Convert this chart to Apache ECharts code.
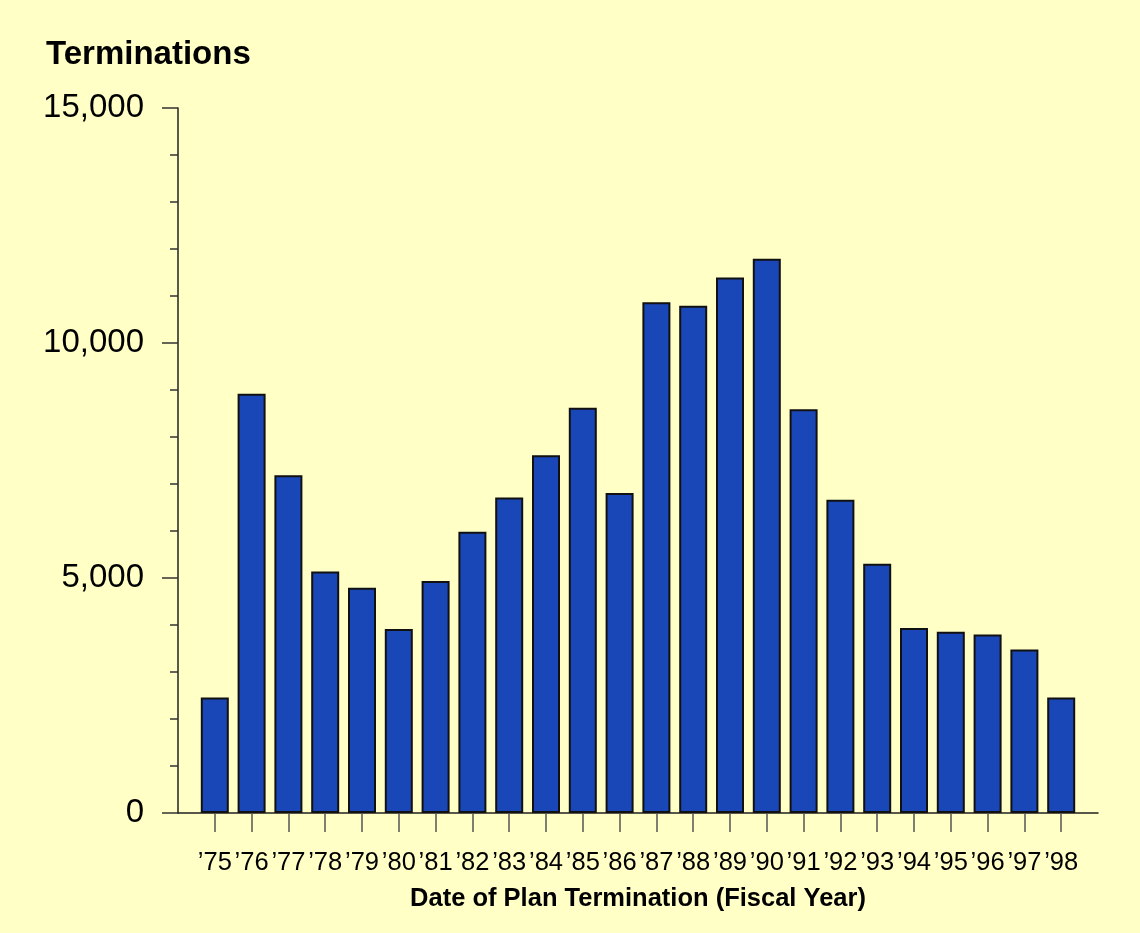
<!DOCTYPE html>
<html>
<head>
<meta charset="utf-8">
<title>Terminations</title>
<script src="https://cdn.jsdelivr.net/npm/echarts@6/dist/echarts.min.js"></script>
<style>
    html, body { margin: 0; padding: 0; background: #FFFFC6; }
    #main { width: 1140px; height: 933px; }
</style>
</head>
<body>
<div id="main"></div>
<script>
// fiscal years '75 - '98
var years = ['\u201975', '\u201976', '\u201977', '\u201978', '\u201979', '\u201980', '\u201981', '\u201982',
    '\u201983', '\u201984', '\u201985', '\u201986', '\u201987', '\u201988', '\u201989', '\u201990',
    '\u201991', '\u201992', '\u201993', '\u201994', '\u201995', '\u201996', '\u201997', '\u201998'];

var terminations = [2460, 8920, 7185, 5140, 4795, 3915, 4935, 5985,
    6715, 7610, 8625, 6810, 10865, 10795, 11395, 11795,
    8590, 6665, 5305, 3935, 3855, 3800, 3480, 2460];

var yTicks = [0, 5000, 10000, 15000];

// one empty slot on each side so the axis runs past the first and last bar
var cats = [''].concat(years, ['']);
var vals = [null].concat(terminations, [null]);

var chart = echarts.init(document.getElementById('main'));

var option = {
    backgroundColor: '#FFFFC6',
    animation: false,
    textStyle: { fontFamily: 'Liberation Sans, Arial, sans-serif' },
    title: {
        text: 'Terminations',
        left: 41,
        top: 33,
        textStyle: {
            fontSize: 33,
            fontWeight: 'bold',
            color: '#000'
        }
    },
    grid: {
        left: 178,
        right: 42,
        top: 108,
        bottom: 120
    },
    xAxis: {
        type: 'category',
        data: cats,
        boundaryGap: false,
        name: 'Date of Plan Termination (Fiscal Year)',
        nameLocation: 'middle',
        nameGap: 73,
        nameTextStyle: {
            fontSize: 25.5,
            fontWeight: 'bold',
            color: '#000'
        },
        axisLine: { lineStyle: { color: '#222', width: 1.5 } },
        axisTick: {
            length: 19,
            interval: function (idx) { return idx > 0 && idx < cats.length - 1; },
            lineStyle: { color: '#555', width: 1.5 }
        },
        axisLabel: {
            interval: 0,
            margin: 37,
            fontSize: 25.5,
            color: '#000'
        }
    },
    yAxis: {
        type: 'value',
        min: yTicks[0],
        max: yTicks[yTicks.length - 1],
        interval: 5000,
        splitLine: { show: false },
        axisLine: { show: true, lineStyle: { color: '#222', width: 1.5 } },
        axisTick: { show: true, length: 16, lineStyle: { color: '#333', width: 1.5 } },
        minorTick: { show: true, splitNumber: 5, length: 8, lineStyle: { color: '#333', width: 1.5 } },
        axisLabel: {
            margin: 34,
            fontSize: 33,
            color: '#000',
            formatter: function (v) { return v.toLocaleString('en-US'); }
        }
    },
    series: [{
        type: 'bar',
        data: vals,
        barWidth: 28,
        itemStyle: {
            color: '#1A47B8',
            borderColor: '#111',
            borderWidth: 2
        }
    }]
};

chart.setOption(option);
</script>
</body>
</html>
